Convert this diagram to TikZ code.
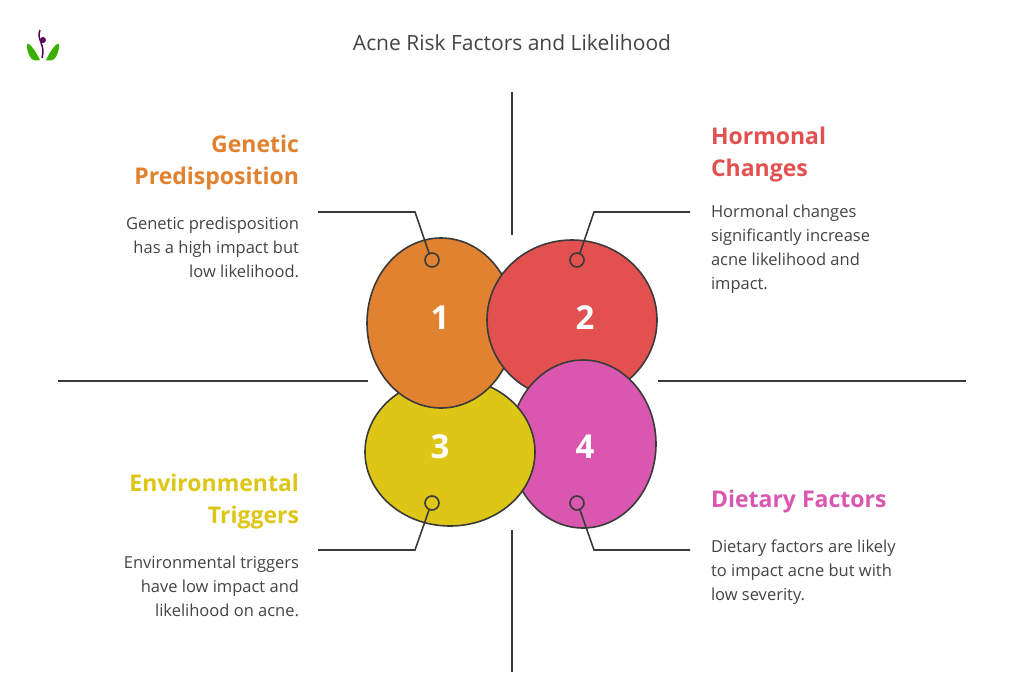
\documentclass[tikz,border=0pt]{standalone}
\usepackage{fontspec}
\setmainfont{Open Sans}
\usetikzlibrary{positioning}
\definecolor{genc}{HTML}{E0822F}
\definecolor{horc}{HTML}{E2504F}
\definecolor{envc}{HTML}{DDC616}
\definecolor{dietc}{HTML}{D957AE}
\definecolor{linec}{HTML}{3A3A3A}
\definecolor{txtc}{HTML}{444444}
\begin{document}
\begin{tikzpicture}[x=1pt,y=-1pt,line width=2pt,
  blob/.style={draw=linec,line width=1.6pt},
  num/.style={text=white,font=\fontsize{33}{36}\selectfont\bfseries},
  pin/.style={draw=linec,line width=1.6pt,fill=none},
  leader/.style={draw=linec,line width=1.6pt},
  head/.style={font=\fontsize{23}{32}\selectfont\bfseries,inner sep=0pt},
  desc/.style={font=\fontsize{16.5}{24}\selectfont,text=txtc,inner sep=0pt}]
\useasboundingbox[fill=white] (0,0) rectangle (1024,683);
\node[font=\fontsize{21}{24}\selectfont,text=txtc] (title) at (512,43) {Acne Risk Factors and Likelihood};
% logo
\fill[green!55!black!70!lime] (28,52) .. controls (24,40) and (30,40) .. (40,60) .. controls (32,62) and (30,58) .. (28,52);
\fill[green!55!black!70!lime] (58,52) .. controls (62,40) and (56,40) .. (46,60) .. controls (54,62) and (56,58) .. (58,52);
\fill[violet!70!black] (43,40) circle (3);
\draw[violet!70!black,line width=1.5pt] (40,30) .. controls (36,40) and (46,44) .. (42,58);
% axes
\draw[linec] (512,92) -- (512,235);
\draw[linec] (512,530) -- (512,672);
\draw[linec] (58,381) -- (368,381);
\draw[linec] (658,381) -- (966,381);
% circles
\filldraw[blob,fill=horc] (572,320) ellipse (85 and 80) coordinate (c2);
\filldraw[blob,fill=dietc] (583,444) ellipse (73 and 84) coordinate (c4);
\filldraw[blob,fill=envc] (450,452) ellipse (85 and 74) coordinate (c3);
\filldraw[blob,fill=genc] (441,323) ellipse (74 and 85) coordinate (c1);
\begin{scope}
\clip (441,323) ellipse (76 and 87);
\clip (300,200) rectangle (700,374);
\filldraw[blob,fill=horc] (572,320) ellipse (85 and 80);
\end{scope}
\node[num] (n1) at (440,318) {1};
\node[num] (n2) at (585,318) {2};
\node[num] (n3) at (440,447) {3};
\node[num] (n4) at (585,447) {4};
% pins and leaders
\draw[pin] (432,260) circle (7) coordinate (p1);
\draw[pin] (577,260) circle (7) coordinate (p2);
\draw[pin] (432,503) circle (7) coordinate (p3);
\draw[pin] (577,503) circle (7) coordinate (p4);
\draw[leader] (429,253) -- (415,212) -- (318,212);
\draw[leader] (580,253) -- (594,212) -- (690,212);
\draw[leader] (429,510) -- (415,550) -- (318,550);
\draw[leader] (580,510) -- (594,550) -- (690,550);
% texts
\node[head,text=genc,align=right,anchor=north east] (h1) at (300,134) {Genetic\\Predisposition};
\node[desc,align=right,anchor=north east] (d1) at (300,216) {Genetic predisposition\\has a high impact but\\low likelihood.};
\node[head,text=horc,align=left,anchor=north west] (h2) at (710,126) {Hormonal\\Changes};
\node[desc,align=left,anchor=north west] (d2) at (710,204) {Hormonal changes\\significantly increase\\acne likelihood and\\impact.};
\node[head,text=envc,align=right,anchor=north east] (h3) at (300,473) {Environmental\\Triggers};
\node[desc,align=right,anchor=north east] (d3) at (300,555) {Environmental triggers\\have low impact and\\likelihood on acne.};
\node[head,text=dietc,align=left,anchor=north west] (h4) at (710,489) {Dietary Factors};
\node[desc,align=left,anchor=north west] (d4) at (710,539) {Dietary factors are likely\\to impact acne but with\\low severity.};
\end{tikzpicture}
\end{document}
